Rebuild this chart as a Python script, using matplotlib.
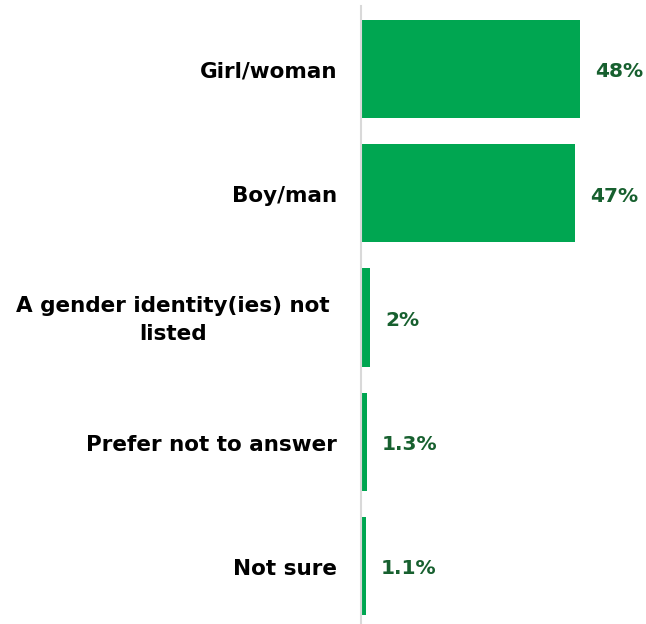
import matplotlib
matplotlib.use("Agg")
import matplotlib.pyplot as plt

categories = ["Girl/woman", "Boy/man", "A gender identity(ies) not\nlisted",
              "Prefer not to answer", "Not sure"]
values = [48, 47, 2, 1.3, 1.1]
value_labels = ["48%", "47%", "2%", "1.3%", "1.1%"]

plt.rcParams["font.family"] = ["DejaVu Sans"]

fig = plt.figure(figsize=(6.46, 6.24), dpi=100)
ax = fig.add_axes([361 / 646, 0.0, 285 / 646, 618 / 624])

y = list(range(len(categories)))
ax.barh(y, values, height=0.79, color="#00A651", zorder=2)

ax.set_xlim(0, 62.5)
ax.set_ylim(4.467, -0.507)

for yi, v, lab in zip(y, values, value_labels):
    ax.annotate(lab, (v, yi), xytext=(15, -3), textcoords="offset pixels",
                ha="left", va="center", fontsize=14.5, fontweight="bold",
                color="#17602F")

for yi, cat in zip(y, categories):
    if "\n" in cat:
        # two-line label is centred under its own block
        ax.annotate(cat, (0, yi), xytext=(-188, -3), textcoords="offset pixels",
                    ha="center", va="center", fontsize=15.5, fontweight="bold",
                    color="#000000", multialignment="center", linespacing=1.5)
    else:
        ax.annotate(cat, (0, yi), xytext=(-24, -3), textcoords="offset pixels",
                    ha="right", va="center", fontsize=15.5, fontweight="bold",
                    color="#000000")

for side in ["top", "right", "bottom"]:
    ax.spines[side].set_visible(False)
ax.spines["left"].set_color("#D9D9D9")
ax.spines["left"].set_linewidth(1.5)
ax.set_xticks([])
ax.set_yticks([])

fig.savefig("out.png", dpi=100)
